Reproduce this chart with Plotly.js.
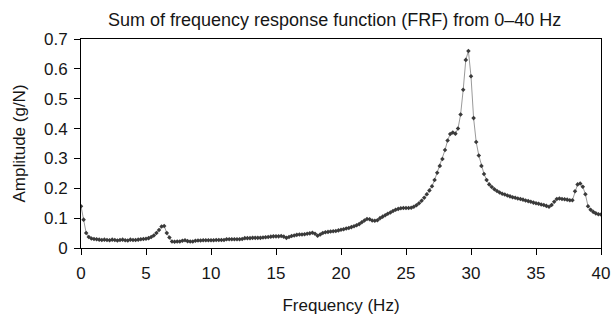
<!DOCTYPE html>
<html>
<head>
<meta charset="utf-8">
<script src="https://cdn.plot.ly/plotly-3.0.1.min.js"></script>
<style>html,body{margin:0;padding:0;background:#fff;}#chart{width:614px;height:322px;}</style>
</head>
<body>
<div id="chart"></div>
<script>
// Frequency grid: 0 to 40 Hz, 0.2 Hz spacing
const freqStart = 0;
const freqStep = 0.2;
// Amplitude (g/N), one value per 0.2 Hz
const amplitude = [
  0.14,0.095,0.05,0.037,0.032,
  0.03,0.029,0.028,0.027,0.028,
  0.027,0.026,0.028,0.027,0.025,
  0.027,0.028,0.026,0.025,0.028,
  0.027,0.027,0.028,0.029,0.03,
  0.031,0.033,0.037,0.042,0.05,
  0.06,0.072,0.074,0.05,0.035,
  0.022,0.021,0.022,0.022,0.024,
  0.026,0.023,0.022,0.022,0.024,
  0.025,0.025,0.026,0.026,0.026,
  0.026,0.026,0.027,0.027,0.027,
  0.027,0.029,0.029,0.029,0.029,
  0.029,0.029,0.03,0.033,0.033,
  0.033,0.034,0.034,0.034,0.034,
  0.035,0.036,0.037,0.038,0.039,
  0.039,0.039,0.04,0.038,0.034,
  0.037,0.04,0.042,0.044,0.045,
  0.045,0.046,0.048,0.049,0.051,
  0.048,0.041,0.045,0.05,0.053,
  0.054,0.055,0.056,0.057,0.059,
  0.061,0.063,0.065,0.067,0.07,
  0.073,0.076,0.08,0.086,0.092,
  0.097,0.096,0.092,0.091,0.093,
  0.1,0.105,0.11,0.115,0.119,
  0.124,0.128,0.131,0.133,0.134,
  0.134,0.134,0.135,0.138,0.143,
  0.15,0.158,0.168,0.18,0.193,
  0.207,0.228,0.252,0.275,0.298,
  0.328,0.36,0.382,0.387,0.383,
  0.4,0.447,0.53,0.63,0.66,
  0.575,0.435,0.355,0.31,0.275,
  0.248,0.228,0.213,0.204,0.197,
  0.191,0.186,0.182,0.179,0.176,
  0.173,0.17,0.168,0.166,0.164,
  0.162,0.159,0.157,0.155,0.152,
  0.15,0.148,0.146,0.144,0.141,
  0.138,0.144,0.155,0.164,0.166,
  0.164,0.163,0.162,0.16,0.16,
  0.19,0.213,0.216,0.205,0.18,
  0.14,0.128,0.121,0.116,0.113,
  0.112
];
const frequency = amplitude.map((_, i) => +(freqStart + i * freqStep).toFixed(2));

const xTicks = [0, 5, 10, 15, 20, 25, 30, 35, 40];
const yTicks = [0, 0.1, 0.2, 0.3, 0.4, 0.5, 0.6, 0.7];

const FONT = 'Liberation Sans, Arial, sans-serif';
const INK = '#161616';

Plotly.newPlot('chart', [{
  x: frequency,
  y: amplitude,
  type: 'scatter',
  mode: 'lines+markers',
  line: {color: '#9a9a9a', width: 1},
  marker: {symbol: 'diamond', size: 3.5, color: '#3a3a3a'},
  hoverinfo: 'x+y'
}], {
  width: 614,
  height: 322,
  margin: {l: 81, r: 13, t: 39, b: 74},
  paper_bgcolor: '#fff',
  plot_bgcolor: '#fff',
  showlegend: false,
  font: {family: FONT, size: 17, color: INK},
  title: {
    text: 'Sum of frequency response function (FRF) from 0\u201340 Hz',
    font: {family: FONT, size: 18, color: INK},
    x: 0.545, xanchor: 'center', y: 0.94, yanchor: 'middle'
  },
  xaxis: {
    range: [0, 40],
    tickvals: xTicks,
    ticktext: xTicks.map(String),
    ticks: 'outside', ticklen: 6, tickwidth: 1, tickcolor: '#000',
    ticklabelstandoff: 4,
    showline: true, linecolor: '#000', linewidth: 1, mirror: true,
    showgrid: false, zeroline: false,
    tickfont: {family: FONT, size: 17, color: INK},
    title: {text: 'Frequency (Hz)', font: {family: FONT, size: 17, color: INK}, standoff: 16}
  },
  yaxis: {
    range: [0, 0.7],
    tickvals: yTicks,
    ticktext: yTicks.map(String),
    ticks: 'outside', ticklen: 6, tickwidth: 1, tickcolor: '#000',
    ticklabelstandoff: 3,
    showline: true, linecolor: '#000', linewidth: 1, mirror: true,
    showgrid: false, zeroline: false,
    tickfont: {family: FONT, size: 17, color: INK},
    title: {text: 'Amplitude (g/N)', font: {family: FONT, size: 17, color: INK}, standoff: 14}
  }
}, {displayModeBar: false, staticPlot: true});
</script>
</body>
</html>
